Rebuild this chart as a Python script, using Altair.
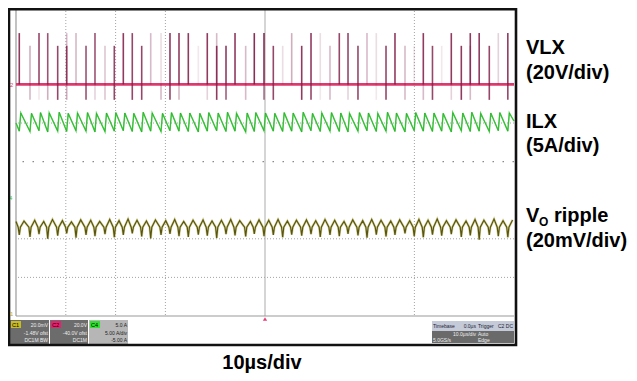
import altair as alt
import pandas as pd

# ---------------- data read from the scope capture ----------------
# switching events (µs, 10 µs/div, 10 divisions)
spike_t = [0.66, 2.81, 4.62, 6.37, 8.37, 10.18, 12.05, 14.06, 15.86, 17.87,
           19.74, 21.55, 23.35, 25.24, 27.05, 29.12, 30.92, 32.73, 34.60, 36.61,
           38.41, 40.30, 42.17, 43.98, 46.12, 47.85, 49.80, 51.67, 53.55, 55.36,
           57.37, 59.24, 61.10, 63.05, 64.92, 66.67, 68.67, 70.48, 72.35, 74.30,
           76.10, 78.11, 79.96, 81.79, 83.63, 85.48, 87.41, 89.42, 91.22, 93.01,
           95.04, 96.85, 98.76]
# persistence intensity of each VLX spike: tall part, medium part, negative dip
tall_alpha = [.85, 0, .8, .75, 0, .3, .3, 0, .75, 0, 0, .85, .8, 0, .3, .15, .85, .85, .85, 0,
              .85, .3, 0, .85, 0, .9, .9, 0, 0, .35, 0, .85, .15, 0, .8, .8, 0, .3, .15, 0,
              .85, 0, 0, .85, 0, 0, .85, 0, .85, .85, 0, .2, .85]
mid_alpha = [0, .35, 0, 0, .8, .8, 0, .75, 0, .25, .8, 0, 0, .8, 0, 0, 0, 0, 0, .1,
             0, .85, .85, 0, .3, 0, 0, .8, .15, 0, .85, 0, 0, .3, 0, 0, .8, 0, 0, .8,
             0, .3, .1, 0, .8, .1, 0, .85, .3, 0, .8, 0, 0]
dip_alpha = [0, .3, .1, .35, .8, .35, 0, .75, .2, .25, .8, 0, .8, .8, 0, .3, .8, .3, 0, 0,
             .2, .85, .7, 0, .3, 0, .6, .8, 0, 0, .85, .8, .1, .3, 0, .2, .8, 0, .1, .8,
             0, .3, 0, .3, .8, 0, .2, .85, .3, 0, .8, 0, .8]
# levels in screen divisions (8 vertical divisions, centre = 0)
VLX_BASE, VLX_TALL, VLX_MID, VLX_DIP = 2.0, 3.33, 3.0, 1.6

ilx_peak = [1.26, 1.25, 1.27, 1.26, 1.28, 1.25, 1.26, 1.27, 1.25, 1.26,
            1.27, 1.26, 1.25, 1.28, 1.26, 1.25, 1.27, 1.26, 1.26, 1.25,
            1.27, 1.26, 1.28, 1.25, 1.26, 1.27, 1.26, 1.25, 1.27, 1.26,
            1.28, 1.25, 1.26, 1.27, 1.26, 1.25, 1.27, 1.26, 1.25, 1.28,
            1.26, 1.25, 1.27, 1.26, 1.26, 1.25, 1.27, 1.26, 1.28, 1.25,
            1.26, 1.27, 1.26]
ilx_valley = [0.79, 0.78, 0.80, 0.77, 0.79, 0.78, 0.80, 0.79, 0.77, 0.78,
              0.79, 0.80, 0.78, 0.77, 0.79, 0.78, 0.80, 0.79, 0.78, 0.77,
              0.79, 0.80, 0.78, 0.79, 0.77, 0.78, 0.80, 0.79, 0.78, 0.79,
              0.77, 0.80, 0.78, 0.79, 0.78, 0.77, 0.79, 0.80, 0.78, 0.79,
              0.78, 0.77, 0.80, 0.79, 0.78, 0.79, 0.77, 0.80, 0.78, 0.79,
              0.78, 0.80, 0.79]
ilx_start, ilx_end = 1.0, 1.05

vo_top = [-1.54, -1.52, -1.55, -1.50, -1.53, -1.56, -1.51, -1.52, -1.55, -1.50,
          -1.53, -1.49, -1.52, -1.54, -1.51, -1.53, -1.50, -1.55, -1.52, -1.51,
          -1.54, -1.52, -1.50, -1.53, -1.55, -1.51, -1.52, -1.50, -1.54, -1.52,
          -1.51, -1.53, -1.50, -1.52, -1.55, -1.51, -1.53, -1.50, -1.52, -1.54,
          -1.51, -1.53, -1.50, -1.52, -1.49, -1.53, -1.51, -1.54, -1.50, -1.52,
          -1.49, -1.53, -1.51]
vo_bottom = [-1.90, -1.95, -1.88, -2.00, -1.92, -1.86, -1.97, -1.90, -1.93, -1.88,
             -1.96, -1.90, -1.86, -1.94, -1.99, -1.90, -1.87, -1.93, -1.95, -1.89,
             -1.92, -1.98, -1.88, -1.91, -1.94, -1.87, -1.93, -1.90, -1.96, -1.89,
             -1.92, -1.88, -1.95, -1.90, -1.93, -1.87, -1.91, -1.97, -1.89, -1.94,
             -1.90, -1.86, -1.93, -1.96, -1.89, -1.92, -1.88, -1.95, -1.91, -2.02,
             -1.90, -1.93, -1.96]
VO_JUNCTION = -1.70
vo_start = -1.55

# grid
vgrid_dotted = [10, 20, 30, 80]
vgrid_solid = [50]
hgrid_dotted = [2, 1, -2, -3]

# right-hand labels
labels = ["VLX", "(20V/div)", "ILX", "(5A/div)", "(20mV/div)"]

# ---------------- build tables ----------------
spikes = pd.DataFrame({"t": spike_t, "tall": tall_alpha, "mid": mid_alpha, "dip": dip_alpha})
spikes["base"] = VLX_BASE
spikes["ytall"] = VLX_TALL
spikes["ymid"] = VLX_MID
spikes["ydip"] = VLX_DIP

ilx_rows = [(0.0, ilx_start)]
for t, pk, vl in zip(spike_t, ilx_peak, ilx_valley):
    ilx_rows.append((t, vl))
    ilx_rows.append((t + 0.3, pk))
ilx_rows.append((100.0, ilx_end))
ilx = pd.DataFrame(ilx_rows, columns=["t", "v"])

vo_rows = [(0.0, vo_start)]
for t, top, bot in zip(spike_t, vo_top, vo_bottom):
    vo_rows += [(t - 0.22, VO_JUNCTION), (t, bot), (t + 0.22, VO_JUNCTION), (t + 0.95, top)]
vo_rows = [r for r in vo_rows if 0 <= r[0] <= 100]
vo = pd.DataFrame(vo_rows, columns=["t", "v"])

W, H = 498, 308
xs = alt.Scale(domain=[0, 100], nice=False, zero=False)
ys = alt.Scale(domain=[-4, 3.98], nice=False, zero=False)
X = lambda f: alt.X(f, scale=xs, axis=None)
Y = lambda f: alt.Y(f, scale=ys, axis=None)

layers = []

# grid lines
layers.append(alt.Chart(pd.DataFrame({"t": vgrid_dotted})).mark_rule(
    color="#a4a4a4", strokeWidth=1, strokeDash=[1, 2]).encode(x=X("t:Q")))
layers.append(alt.Chart(pd.DataFrame({"t": vgrid_solid})).mark_rule(
    color="#ababab", strokeWidth=1).encode(x=X("t:Q")))
layers.append(alt.Chart(pd.DataFrame({"v": hgrid_dotted})).mark_rule(
    color="#a4a4a4", strokeWidth=1, strokeDash=[1, 2]).encode(y=Y("v:Q")))
layers.append(alt.Chart(pd.DataFrame({"v": [0]})).mark_rule(
    color="#8a8a8a", strokeWidth=1.2, strokeDash=[1.5, 8.5]).encode(y=Y("v:Q")))
layers.append(alt.Chart(pd.DataFrame({"t": [0]})).mark_rule(
    color="#9a9a9a", strokeWidth=1.2).encode(x=X("t:Q")))
layers.append(alt.Chart(pd.DataFrame({"v": [-4]})).mark_rule(
    color="#9a9a9a", strokeWidth=1.2).encode(y=Y("v:Q")))

# ILX (green sawtooth)
layers.append(alt.Chart(ilx).mark_line(color="#52d852", strokeWidth=1.5).encode(
    x=X("t:Q"), y=Y("v:Q")))
layers.append(alt.Chart(ilx).mark_line(color="#168a16", strokeWidth=0.8, opacity=0.5).encode(
    x=X("t:Q"), y=Y("v:Q")))

# Vo ripple
layers.append(alt.Chart(vo).mark_line(color="#b8b44e", strokeWidth=2.4, opacity=0.55).encode(
    x=X("t:Q"), y=Y("v:Q")))
layers.append(alt.Chart(vo).mark_line(color="#5a5612", strokeWidth=1.2).encode(
    x=X("t:Q"), y=Y("v:Q")))

# VLX baseline + spikes
layers.append(alt.Chart(pd.DataFrame({"v": [VLX_BASE]})).mark_rule(
    color="#dc3a6e", strokeWidth=2.6).encode(y=Y("v:Q")))
spk = alt.Chart(spikes)
layers.append(spk.transform_filter("datum.dip > 0").mark_rule(color="#7c1844", strokeWidth=1.6).encode(
    x=X("t:Q"), y=Y("base:Q"), y2="ydip:Q", opacity=alt.Opacity("dip:Q", scale=None)))
layers.append(spk.transform_filter("datum.tall > 0").mark_rule(color="#7c1844", strokeWidth=1.6).encode(
    x=X("t:Q"), y=Y("base:Q"), y2="ytall:Q", opacity=alt.Opacity("tall:Q", scale=None)))
layers.append(spk.transform_filter("datum.mid > 0").mark_rule(color="#7c1844", strokeWidth=1.6).encode(
    x=X("t:Q"), y=Y("base:Q"), y2="ymid:Q", opacity=alt.Opacity("mid:Q", scale=None)))

# trigger position marker
layers.append(alt.Chart(pd.DataFrame({"t": vgrid_solid})).mark_point(
    shape="triangle-up", filled=True, color="#e83a78", size=18, opacity=1).encode(
    x=X("t:Q"), y=alt.value(311)))


def box(x1, y1, x2, y2, fill):
    return alt.Chart(pd.DataFrame({"k": [0]})).mark_rect(fill=fill).encode(
        x=alt.value(x1), x2=alt.value(x2), y=alt.value(y1), y2=alt.value(y2))


def txt(s, x, y, size=20, color="black", weight="bold", align="left", font="Liberation Sans"):
    return alt.Chart(pd.DataFrame({"s": [s]})).mark_text(
        font=font, fontSize=size, fontWeight=weight, color=color, align=align, baseline="alphabetic").encode(
        text="s:N", x=alt.value(x), y=alt.value(y))


# channel ground markers on the left
layers.append(txt("2", -6, 79, size=6, color="#e8407a", weight="normal"))
layers.append(txt("4", -7, 192, size=6, color="#40d040", weight="normal"))
layers.append(txt("1", -6, 308, size=6, color="#c0b020", weight="normal"))

# status bar
layers += [
    box(-6, 312, 33, 336, "#6c6c6c"), box(-5, 313, 5, 320, "#c8bc20"),
    box(34, 312, 72, 336, "#6c6c6c"), box(35, 313, 45, 320, "#e8206e"),
    box(73, 312, 112, 336, "#b6b6b6"), box(74, 313, 84, 320, "#30e030"),
    box(416, 313, 461, 323, "#c4cad8"), box(416, 323, 461, 335, "#6a6a6a"),
    box(461, 313, 498, 323, "#c4cad8"), box(461, 323, 498, 335, "#6a6a6a"),
]
layers += [
    txt("C1", -4, 319, size=5.5, weight="normal"),
    txt("C2", 36, 319, size=5.5, weight="normal"),
    txt("C4", 75, 319, size=5.5, weight="normal"),
    txt("20.0mV", 32, 319, size=5, color="#eeeeee", weight="normal", align="right"),
    txt("-1.48V ofst", 32, 327, size=5, color="#eeeeee", weight="normal", align="right"),
    txt("DC1M BW", 32, 334, size=5, color="#eeeeee", weight="normal", align="right"),
    txt("20.0V", 71, 319, size=5, color="#eeeeee", weight="normal", align="right"),
    txt("-40.0V ofst", 71, 327, size=5, color="#eeeeee", weight="normal", align="right"),
    txt("DC1M", 71, 334, size=5, color="#eeeeee", weight="normal", align="right"),
    txt("5.0 A", 111, 319, size=5, color="#222222", weight="normal", align="right"),
    txt("5.00 A/div", 111, 327, size=5, color="#222222", weight="normal", align="right"),
    txt("-5.00 A", 111, 334, size=5, color="#222222", weight="normal", align="right"),
    txt("Timebase", 417, 320, size=5, color="#223", weight="normal"),
    txt("0.0µs", 460, 320, size=5, color="#223", weight="normal", align="right"),
    txt("10.0µs/div", 460, 328, size=5, color="#eeeeee", weight="normal", align="right"),
    txt("5.0GS/s", 417, 334, size=5, color="#eeeeee", weight="normal"),
    txt("Trigger", 462, 320, size=5, color="#223", weight="normal"),
    txt("C2 DC", 497, 320, size=5, color="#223", weight="normal", align="right"),
    txt("Auto", 462, 328, size=5, color="#eeeeee", weight="normal"),
    txt("Edge", 462, 334, size=5, color="#eeeeee", weight="normal"),
]

# outer frame
layers.append(alt.Chart(pd.DataFrame({"k": [0]})).mark_rect(
    fill=None, stroke="#111111", strokeWidth=2.6).encode(
    x=alt.value(-7), x2=alt.value(500), y=alt.value(1.3), y2=alt.value(337)))

# right-hand labels
layers += [
    txt(labels[0], 510, 46), txt(labels[1], 510, 71),
    txt(labels[2], 510, 120), txt(labels[3], 510, 144),
    txt("V", 510, 214), txt("O", 523, 218, size=12), txt("ripple", 538, 214),
    txt(labels[4], 510, 239),
    txt("10µs/div", 246, 361, align="center"),
]

chart = alt.layer(*layers).properties(
    width=W, height=H,
    autosize=alt.AutoSizeParams(type="none"),
    padding={"left": 8, "top": 0, "right": 115, "bottom": 57},
).configure_view(stroke=None)

chart.save("out.html", embed_options={"renderer": "svg", "actions": False})
